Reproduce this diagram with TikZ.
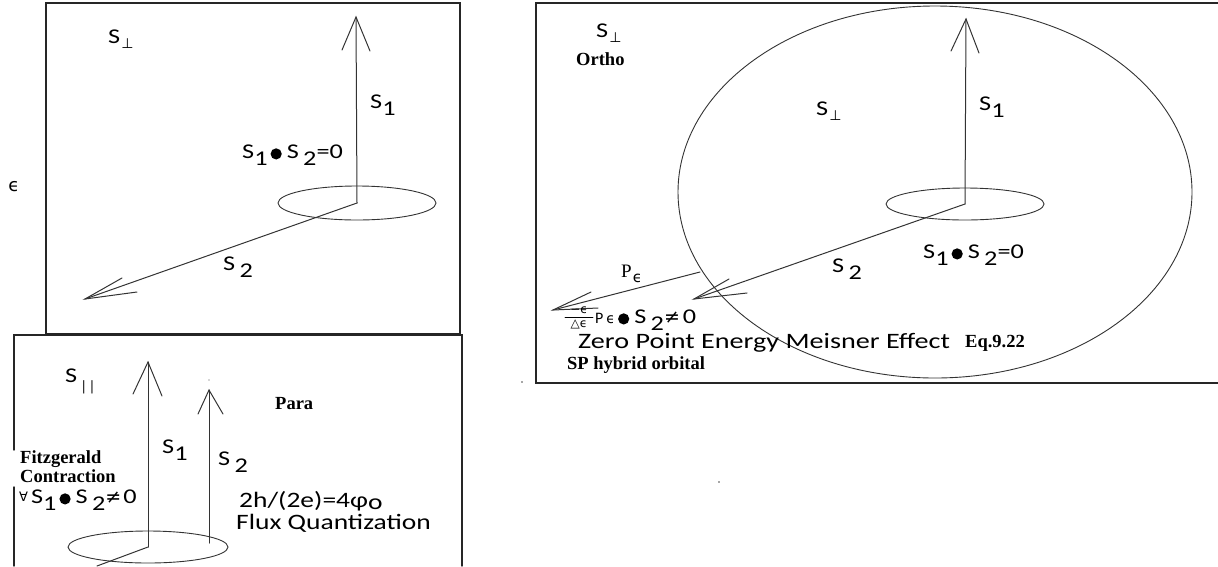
\documentclass[tikz,border=0pt]{standalone}
\usepackage{fontspec}
\usepackage{graphicx}
\setmainfont{Liberation Serif}
\newfontfamily\calfont{Carlito}
\newfontfamily\symfont{DejaVu Sans}
\newcommand{\sfx}[1]{\scalebox{1.25}[1]{#1}}
\newcommand{\lowr}[1]{\raisebox{-0.36em}{#1}}
\newcommand{\bdot}{\hspace{3pt}\raisebox{-1.5pt}{\tikz\fill (0,0) circle (5.6pt);}\hspace{5pt}}
\newcommand{\perpsub}{\hspace{1pt}\raisebox{-0.25em}{\symfont\fontsize{14}{14}\selectfont ⊥}}
\newcommand{\neqs}{{\symfont\fontsize{19}{19}\selectfont ≠}}
\begin{document}
\begin{tikzpicture}[x=1pt,y=-1pt,line cap=round]
\useasboundingbox (0,0) rectangle (1218,566);
\tikzset{
 frame/.style={line width=1.4pt, draw=black!85},
 vec/.style={line width=1pt, draw=black!80},
 orb/.style={line width=0.9pt, draw=black!80},
 lab/.style={inner sep=0pt, anchor=base west, font=\calfont\fontsize{21}{21}\selectfont},
 txt/.style={inner sep=0pt, anchor=base west, font=\bfseries\fontsize{18.5}{18.5}\selectfont},
 big/.style={inner sep=0pt, anchor=base west, font=\calfont\fontsize{22}{22}\selectfont},
 sym/.style={inner sep=0pt, font=\symfont\fontsize{13}{13}\selectfont},
}
% ---------- frames
\draw[frame] (46,3) rectangle (460,334);
\draw[frame] (14,566) -- (14,487);
\draw[frame] (14,450) -- (14,335) -- (462,335) -- (462,566);
\draw[frame] (1218,3) -- (536,3) -- (536,383) -- (1218,383);

% ---------- top-left panel
\coordinate (oA) at (357,203);
\coordinate (tA1) at (356,17);
\coordinate (aA1) at (342,50);
\coordinate (bA1) at (370,51);
\coordinate (tA2) at (85,299);
\coordinate (aA2) at (122,278);
\coordinate (bA2) at (137,292);
\draw[orb] (oA) ellipse [x radius=79, y radius=17];
\draw[vec] (oA) -- (tA1);
\draw[vec] (aA1) -- (tA1) -- (bA1);
\draw[vec] (oA) -- (tA2);
\draw[vec] (aA2) -- (tA2) -- (bA2);
\node[lab] (sperpA) at (108,43) {\sfx{S}\perpsub};
\node[lab] (s1A) at (370,108) {\sfx{S\lowr{1}}};
\node[lab] (dotA) at (242,158) {\sfx{S\lowr{1}}\bdot\sfx{S\,\lowr{2}=0}};
\node[lab] (s2A) at (223,270) {\sfx{S\,\lowr{2}}};
\node[sym,font=\symfont\fontsize{18}{18}\selectfont] (eps) at (14,187) {ϵ};

% ---------- bottom-left panel
\coordinate (oB) at (148,547);
\coordinate (tB1) at (148,362);
\coordinate (aB1) at (133,394);
\coordinate (bB1) at (162,396);
\coordinate (fB2) at (209,543);
\coordinate (tB2) at (209,390);
\coordinate (aB2) at (198,414);
\coordinate (bB2) at (223,414);
\coordinate (eB) at (97,566);
\draw[orb] (oB) ellipse [x radius=80, y radius=16];
\draw[vec] (oB) -- (tB1);
\draw[vec] (aB1) -- (tB1) -- (bB1);
\draw[vec] (fB2) -- (tB2);
\draw[vec] (aB2) -- (tB2) -- (bB2);
\draw[vec] (oB) -- (eB);
\fill[black!70] (209,380) circle (0.7);
\node[lab] (sparB) at (65,382) {\sfx{S}\hspace{3pt}\raisebox{-0.45em}{\fontsize{15}{15}\selectfont|\hspace{1.5pt}|}};
\node[txt] (para) at (275,409) {Para};
\node[lab] (s1B) at (162,453) {\sfx{S\lowr{1}}};
\node[lab] (s2B) at (218,465) {\sfx{S\,\lowr{2}}};
\node[txt] (fitz) at (20,463) {Fitzgerald};
\node[txt] (contr) at (20,482) {Contraction};
\node[lab] (dotB) at (19,503) {\raisebox{2pt}{\symfont\fontsize{13}{13}\selectfont ∀}\hspace{3pt}\sfx{S\lowr{1}}\bdot\sfx{S\,\lowr{2}}\neqs\hspace{2pt}\sfx{0}};
\node[big] (flux1) at (239,507) {\sfx{2h/(2e)=4φ\raisebox{-0.12em}{o}}};
\node[big] (flux2) at (236,529) {\sfx{Flux Quantization}};

% ---------- right panel
\coordinate (oC) at (965,204);
\coordinate (tC1) at (966,19);
\coordinate (aC1) at (951,51);
\coordinate (bC1) at (979,53);
\coordinate (tC2) at (694,299);
\coordinate (aC2) at (729,279);
\coordinate (bC2) at (747,293);
\coordinate (fP) at (700,272);
\coordinate (tP) at (553,310);
\coordinate (aP) at (591,292);
\coordinate (bP) at (598,308);
\draw[orb] (935,192) ellipse [x radius=257, y radius=186];
\draw[orb] (oC) ellipse [x radius=79, y radius=16];
\draw[vec] (oC) -- (tC1);
\draw[vec] (aC1) -- (tC1) -- (bC1);
\draw[vec] (oC) -- (tC2);
\draw[vec] (aC2) -- (tC2) -- (bC2);
\draw[vec] (fP) -- (tP);
\draw[vec] (aP) -- (tP) -- (bP);
\fill[black!70] (522,382) circle (0.8);
\fill[black!70] (719,482) circle (0.8);
\node[lab] (sperpC) at (596,37) {\sfx{S}\perpsub};
\node[txt] (ortho) at (576,65) {Ortho};
\node[lab] (sperpC2) at (816,115) {\sfx{S}\perpsub};
\node[lab] (s1C) at (979,110) {\sfx{S\lowr{1}}};
\node[lab] (dotC) at (923,258) {\sfx{S\lowr{1}}\bdot\sfx{S\,\lowr{2}=0}};
\node[lab] (s2C) at (832,272) {\sfx{S\,\lowr{2}}};
\node[inner sep=0pt, anchor=base west, font=\fontsize{19}{19}\selectfont] (pe) at (621,277) {P\hspace{1pt}\raisebox{-0.3em}{\symfont\fontsize{15}{15}\selectfont ϵ}};
% fraction -eps / Delta eps
\node[sym,font=\symfont\fontsize{12}{12}\selectfont] (num) at (579,310) {−ϵ};
\node[sym,font=\symfont\fontsize{12}{12}\selectfont] (den) at (579,324) {△ϵ};
\draw[line width=0.8pt] (565,317.5) -- (593,317.5);
\node[lab] (dotP) at (595,323) {{\fontsize{16}{16}\selectfont P}\hspace{3pt}{\symfont\fontsize{14}{14}\selectfont ϵ}\bdot\sfx{S\,\lowr{2}}\neqs\hspace{3pt}\sfx{0}};
\node[big] (zero) at (578,348) {\scalebox{1.28}[1]{Zero Point Energy Meisner Effect}};
\node[txt] (eq) at (965,347) {Eq.9.22};
\node[txt] (sp) at (567,369) {SP hybrid orbital};
\end{tikzpicture}
\end{document}
